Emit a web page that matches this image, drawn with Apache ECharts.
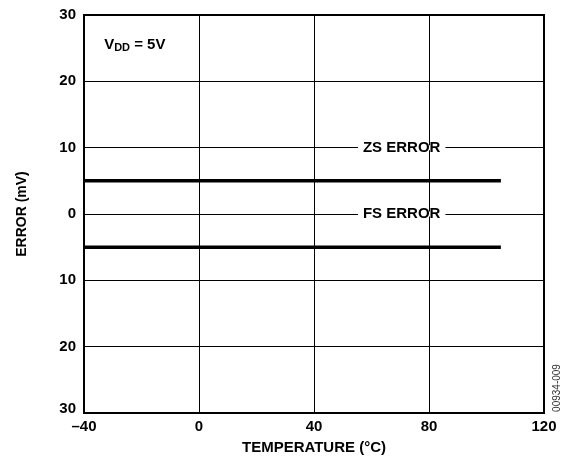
<!DOCTYPE html>
<html>
<head>
<meta charset="utf-8">
<script src="https://cdn.jsdelivr.net/npm/echarts@6/dist/echarts.min.js"></script>
<style>html,body{margin:0;padding:0;background:#fff}#c{width:568px;height:457px}</style>
</head>
<body>
<div id="c"></div>
<script>
var xTicks = [-40, 0, 40, 80, 120];
var yTicks = [-30, -20, -10, 0, 10, 20, 30];
var temperature = [-40, 105];
var zsError = [5, 5];
var fsError = [-5, -5];
var seriesNames = ['ZS ERROR', 'FS ERROR'];
var labelPoints = [[70.5, 10], [70.5, 0]];
var vddPoint = [-33, 25.5];

var FONT = '"Liberation Sans", Arial, sans-serif';
var chart = echarts.init(document.getElementById('c'), null, {renderer: 'canvas'});

function pairs(xs, ys) { return xs.map(function (x, i) { return [x, ys[i]]; }); }

chart.setOption({
  animation: false,
  backgroundColor: '#fff',
  grid: {left: 84, right: 24, top: 15, bottom: 44, show: true, borderColor: '#000', borderWidth: 2,
    backgroundColor: 'transparent', containLabel: false, outerBoundsMode: 'none'},
  xAxis: {
    type: 'value', min: xTicks[0], max: xTicks[xTicks.length - 1], interval: 40,
    name: 'TEMPERATURE (°C)', nameLocation: 'middle', nameGap: 27,
    nameTextStyle: {fontFamily: FONT, fontWeight: 'bold', fontSize: 15, color: '#000'},
    axisLine: {show: false}, axisTick: {show: false},
    axisLabel: {fontFamily: FONT, fontWeight: 'bold', fontSize: 15, color: '#000', margin: 6,
      formatter: function (v) { return v < 0 ? '\u2013' + Math.abs(v) : String(v); }},
    splitLine: {show: true, lineStyle: {color: '#000', width: 1}}
  },
  yAxis: {
    type: 'value', min: yTicks[0], max: yTicks[yTicks.length - 1], interval: 10,
    name: 'ERROR (mV)', nameLocation: 'middle', nameGap: 55,
    nameTextStyle: {fontFamily: FONT, fontWeight: 'bold', fontSize: 14, color: '#000'},
    axisLine: {show: false}, axisTick: {show: false},
    axisLabel: {fontFamily: FONT, fontWeight: 'bold', fontSize: 15, color: '#000', margin: 8,
      formatter: function (v) {
        return v === yTicks[0] ? '{low|' + Math.abs(v) + '}' : String(Math.abs(v));
      },
      rich: {low: {fontFamily: FONT, fontWeight: 'bold', fontSize: 15, color: '#000', padding: [0, 0, 9, 0]}}},
    splitLine: {show: true, lineStyle: {color: '#000', width: 1}}
  },
  series: [
    {name: seriesNames[0], type: 'line', data: pairs(temperature, zsError), symbol: 'none',
      lineStyle: {color: '#000', width: 3.5}, z: 3},
    {name: seriesNames[1], type: 'line', data: pairs(temperature, fsError), symbol: 'none',
      lineStyle: {color: '#000', width: 3.5}, z: 3},
    {type: 'scatter', symbolSize: 0, z: 4, silent: true, itemStyle: {opacity: 1, color: '#000'},
      data: labelPoints.map(function (p, i) { return {value: p, name: seriesNames[i]}; }),
      label: {show: true, position: 'inside', formatter: '{b}', fontFamily: FONT, fontWeight: 'bold',
        fontSize: 15, color: '#000', opacity: 1, backgroundColor: '#fff', padding: [0, 5], lineHeight: 5}},
    {type: 'scatter', symbolSize: 0, z: 4, silent: true, itemStyle: {opacity: 1, color: '#000'},
      data: [{value: vddPoint}],
      label: {show: true, position: 'right', distance: 0, opacity: 1,
        formatter: '{v|V}{s|DD}{v| = 5V}',
        rich: {
          v: {fontFamily: FONT, fontWeight: 'bold', fontSize: 15, color: '#000'},
          s: {fontFamily: FONT, fontWeight: 'bold', fontSize: 11, color: '#000', verticalAlign: 'bottom', padding: [6, 0, 0, 0]}
        }}}
  ],
  graphic: [
    {type: 'text', x: 557, y: 388, rotation: Math.PI / 2,
      style: {text: '00934-009', fontFamily: FONT, fontSize: 10, fill: '#333', align: 'center', verticalAlign: 'middle'}}
  ]
});
</script>
</body>
</html>
